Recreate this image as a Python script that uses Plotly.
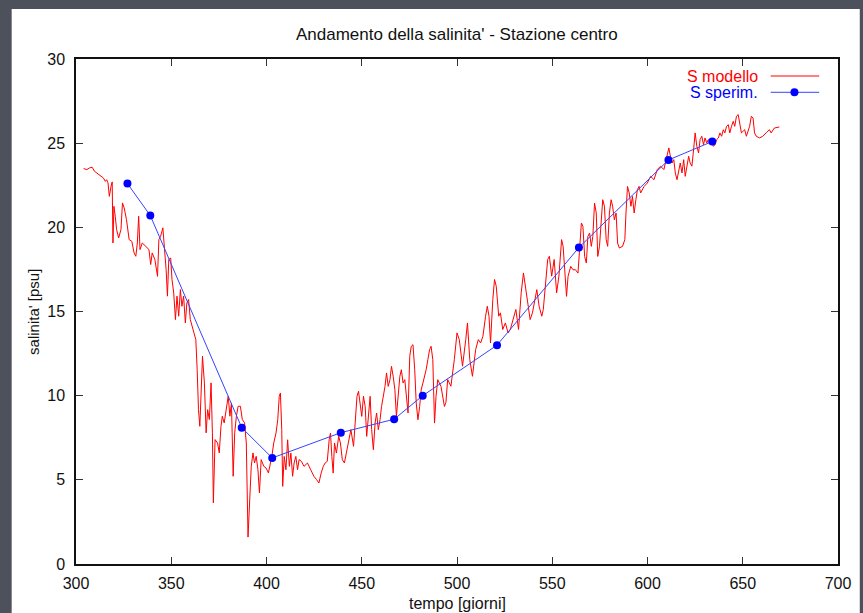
import plotly.graph_objects as go

# ---- data ----
model_days = [
    304.0, 305.7, 307.1, 308.5, 309.7, 311.4, 313.2, 314.4, 315.4, 316.1, 316.8, 317.5, 318.4, 319.0, 319.4,
    319.9, 320.6, 321.3, 322.4, 323.6, 324.4, 325.3, 326.5, 327.9, 329.3, 330.5, 331.4, 332.2, 332.9, 333.6,
    334.8, 336.6, 338.3, 339.2, 340.0, 341.4, 342.8, 343.5, 344.4, 345.6, 346.3, 347.3, 348.0, 348.7, 349.7,
    350.4, 351.3, 352.2, 353.0, 353.9, 354.8, 355.6, 356.5, 357.4, 358.2, 359.1, 360.0, 361.7, 362.9, 363.6,
    364.3, 365.0, 365.7, 366.4, 367.4, 368.3, 369.1, 370.0, 370.9, 371.6, 372.1, 373.0, 374.3, 375.2, 376.1,
    376.8, 377.8, 378.7, 379.9, 380.8, 381.6, 382.5, 383.3, 384.2, 385.1, 386.3, 387.3, 388.5, 389.4, 390.3,
    391.1, 392.0, 392.9, 393.7, 394.6, 395.5, 396.3, 397.2, 398.6, 399.8, 401.0, 402.8, 403.8, 405.0, 405.9,
    406.7, 407.3, 408.0, 408.5, 409.3, 410.2, 411.1, 412.0, 412.8, 413.7, 414.5, 415.4, 416.3, 417.1, 418.3,
    419.7, 421.5, 423.2, 424.9, 426.3, 427.5, 428.7, 429.8, 430.8, 431.9, 432.9, 433.6, 434.3, 435.0, 435.7,
    436.7, 437.9, 438.8, 439.8, 440.9, 441.9, 443.1, 444.3, 445.7, 446.6, 447.5, 448.3, 449.2, 450.0, 450.9,
    451.8, 452.6, 453.5, 454.4, 455.2, 456.1, 457.0, 457.8, 458.7, 459.6, 460.4, 461.3, 462.2, 463.0, 463.9,
    464.8, 465.6, 466.5, 467.4, 468.2, 469.1, 470.0, 470.8, 471.7, 472.6, 473.4, 474.3, 475.2, 476.0, 476.9,
    477.8, 478.6, 479.5, 480.4, 481.2, 482.1, 483.0, 483.8, 484.7, 485.6, 486.4, 487.3, 488.2, 489.0, 489.9,
    491.6, 493.4, 494.2, 495.1, 496.8, 498.6, 500.0, 501.2, 502.9, 504.6, 505.5, 506.7, 508.1, 509.8, 511.2,
    512.4, 513.6, 515.0, 515.9, 516.8, 517.6, 518.8, 519.7, 520.6, 521.9, 522.8, 524.0, 525.4, 526.8, 528.0,
    529.7, 530.9, 532.3, 533.7, 534.9, 536.2, 537.2, 538.4, 539.6, 540.7, 541.9, 543.1, 544.5, 545.3, 546.6,
    547.6, 548.5, 549.7, 551.0, 552.3, 553.5, 554.9, 555.7, 556.6, 557.5, 558.3, 559.7, 560.9, 562.2, 563.5,
    564.4, 565.3, 566.1, 567.0, 567.9, 568.7, 569.6, 570.5, 571.3, 572.2, 573.1, 573.9, 574.8, 575.7, 576.5,
    577.4, 578.3, 579.1, 580.0, 580.9, 581.7, 582.6, 583.5, 584.3, 585.2, 586.9, 588.1, 588.7, 589.5, 590.4,
    591.3, 592.1, 593.0, 593.9, 594.7, 595.6, 596.4, 598.2, 599.9, 601.6, 603.4, 605.1, 606.9, 608.6, 610.3,
    611.2, 612.0, 612.9, 613.8, 614.6, 615.5, 616.4, 617.2, 618.1, 619.0, 619.8, 620.7, 621.6, 622.4, 623.3,
    624.2, 625.0, 625.9, 626.8, 627.6, 628.5, 629.4, 630.2, 631.1, 631.9, 633.7, 634.6, 635.4, 636.3, 637.2,
    638.0, 638.9, 639.8, 640.6, 641.5, 642.4, 643.2, 644.1, 645.0, 645.8, 646.7, 647.6, 648.4, 649.3, 650.2,
    651.0, 651.9, 653.6, 654.5, 655.4, 656.2, 657.1, 658.8, 660.5, 662.3, 664.0, 664.9, 666.6, 669.2,
]
model_sal = [
    23.49, 23.43, 23.53, 23.57, 23.33, 23.19, 23.07, 22.93, 22.73, 22.83, 22.64, 21.84, 22.44, 22.70, 19.07,
    21.25, 20.66, 19.87, 19.37, 19.87, 21.45, 21.15, 20.46, 19.27, 19.17, 18.48, 18.28, 19.07, 20.66, 18.68,
    19.07, 18.88, 18.68, 17.79, 18.48, 18.09, 17.09, 19.27, 19.47, 19.97, 19.07, 17.49, 15.91, 18.09, 18.18,
    16.90, 16.10, 14.52, 15.91, 14.72, 16.30, 15.31, 15.91, 14.32, 15.51, 15.71, 14.52, 13.83, 13.33, 11.55,
    9.17, 8.18, 10.76, 12.34, 10.76, 7.79, 9.17, 8.58, 10.76, 7.79, 3.63, 7.39, 7.19, 6.60, 8.18,
    8.78, 8.38, 9.17, 9.97, 8.78, 9.57, 5.21, 7.79, 8.78, 9.37, 9.37, 8.58, 8.38, 7.19, 1.60,
    3.82, 5.80, 6.60, 6.00, 6.40, 5.60, 4.22, 6.20, 5.80, 5.70, 5.41, 6.39, 7.19, 7.78, 8.57,
    9.96, 10.16, 7.98, 4.61, 6.39, 5.60, 7.38, 5.80, 6.59, 5.21, 6.00, 6.39, 5.60, 6.20, 6.10,
    5.80, 6.00, 5.60, 5.21, 5.01, 4.81, 5.40, 5.80, 6.00, 6.10, 7.38, 7.78, 6.39, 5.40, 7.19,
    6.59, 7.58, 7.19, 6.20, 6.00, 6.59, 7.38, 7.98, 6.99, 8.77, 9.96, 10.26, 9.36, 8.77, 9.96,
    9.36, 7.58, 8.97, 9.96, 7.98, 6.79, 8.37, 8.97, 7.98, 8.57, 9.36, 9.96, 10.55, 11.35, 10.55,
    10.95, 11.74, 11.15, 10.35, 8.77, 9.96, 11.15, 11.54, 10.75, 10.95, 9.96, 8.97, 12.34, 12.93, 13.03,
    11.54, 9.56, 8.57, 9.36, 10.35, 10.75, 11.15, 11.54, 12.14, 12.73, 12.93, 12.14, 8.37, 9.96, 10.95,
    10.55, 9.36, 9.60, 10.96, 10.56, 12.15, 13.73, 13.33, 11.75, 13.33, 14.32, 12.15, 11.15, 12.74, 13.33,
    13.13, 13.53, 14.72, 15.31, 14.72, 13.13, 15.71, 16.90, 16.50, 14.72, 14.92, 13.93, 14.32, 13.73, 13.93,
    14.72, 15.12, 13.93, 16.11, 17.29, 16.30, 15.31, 14.52, 14.92, 15.71, 16.30, 15.31, 14.72, 15.12, 16.70,
    18.09, 18.28, 17.10, 18.09, 16.11, 17.10, 19.27, 18.87, 17.48, 15.90, 17.09, 17.68, 17.48, 17.48, 17.28,
    18.87, 20.26, 20.06, 18.27, 17.88, 19.46, 19.66, 18.87, 19.46, 21.44, 20.85, 18.27, 18.87, 20.45, 21.64,
    21.25, 19.27, 18.87, 20.85, 21.64, 21.25, 20.45, 20.85, 19.07, 18.77, 18.87, 19.27, 20.85, 22.43, 22.04,
    21.25, 21.84, 20.85, 21.64, 22.24, 22.43, 22.04, 22.43, 22.63, 23.03, 22.83, 23.43, 23.63, 23.43, 24.22,
    24.72, 24.22, 23.82, 24.02, 23.23, 22.83, 23.43, 23.82, 23.23, 24.02, 23.03, 23.63, 24.22, 23.82, 23.63,
    24.62, 25.61, 24.81, 24.42, 25.21, 25.41, 24.91, 25.31, 25.01, 25.21, 25.01, 24.81, 24.91, 25.21, 25.31,
    25.61, 25.41, 25.80, 25.61, 26.00, 26.10, 25.61, 26.00, 26.30, 26.00, 26.60, 26.70, 26.20, 25.61, 25.71,
    25.80, 25.41, 26.00, 26.60, 26.50, 25.61, 25.41, 25.31, 25.41, 25.61, 25.80, 25.61, 25.90, 25.96,
]
meas_days = [327.0, 339.0, 387.0, 403.0, 439.0, 467.0, 482.0, 521.0, 564.0, 611.0, 634.0]
meas_sal = [22.6, 20.7, 8.1, 6.3, 7.8, 8.6, 10.0, 13.0, 18.8, 24.0, 25.1]

x_ticks = [300, 350, 400, 450, 500, 550, 600, 650, 700]
y_ticks = [0, 5, 10, 15, 20, 25, 30]

title_text = "Andamento della salinita' - Stazione centro"
x_title = "tempo [giorni]"
y_title = "salinita' [psu]"
legend_names = ["S modello", "S sperim."]

# ---- layout geometry (pixels) ----
W, H = 863, 613
ML, MR, MT, MB = 76, 17, 59, 49
PW, PH = W - ML - MR, H - MT - MB


def px(xp):
    return (xp - ML) / PW


def py(yp):
    return (H - MB - yp) / PH


FONT = "Liberation Sans, Arial, Helvetica, sans-serif"
RED = "#ff0000"
BLUE = "#0000ff"
LINEBLUE = "#3344ff"
BG = "#4c515c"

fig = go.Figure()
fig.add_trace(go.Scatter(x=model_days, y=model_sal, mode="lines", name=legend_names[0],
                         line=dict(color=RED, width=1), showlegend=False, hoverinfo="skip"))
fig.add_trace(go.Scatter(x=meas_days, y=meas_sal, mode="lines+markers", name=legend_names[1],
                         line=dict(color=LINEBLUE, width=1),
                         marker=dict(color=BLUE, size=8, line=dict(width=0)),
                         showlegend=False, hoverinfo="skip"))

shapes = [
    # white page area on the dark slide background
    dict(type="rect", xref="paper", yref="paper", x0=px(11), x1=px(W + 5), y0=py(H + 5), y1=py(9),
         fillcolor="white", line=dict(width=0), layer="below"),
    # legend sample lines
    dict(type="line", xref="paper", yref="paper", x0=px(778), x1=px(827), y0=py(76), y1=py(76),
         line=dict(color=RED, width=1)),
    dict(type="line", xref="paper", yref="paper", x0=px(778), x1=px(827), y0=py(92.3), y1=py(92.3),
         line=dict(color=LINEBLUE, width=1)),
    dict(type="circle", xref="paper", yref="paper", xsizemode="pixel", ysizemode="pixel",
         xanchor=px(802), yanchor=py(92.3), x0=-4, x1=4, y0=-4, y1=4,
         fillcolor=BLUE, line=dict(width=0)),
]

annotations = [
    dict(text=title_text, xref="paper", yref="paper", x=0.5, y=py(35), xanchor="center", yanchor="middle",
         showarrow=False, font=dict(family=FONT, size=17, color="#111")),
    dict(text=x_title, xref="paper", yref="paper", x=0.5, y=py(603), xanchor="center", yanchor="middle",
         showarrow=False, font=dict(family=FONT, size=16, color="#111")),
    dict(text=y_title, xref="paper", yref="paper", x=px(33), y=0.5, xanchor="center", yanchor="middle",
         textangle=-90, showarrow=False, font=dict(family=FONT, size=15, color="#111")),
    dict(text=legend_names[0], xref="paper", yref="paper", x=px(767), y=py(76), xanchor="right",
         yanchor="middle", showarrow=False, font=dict(family=FONT, size=16, color=RED)),
    dict(text=legend_names[1], xref="paper", yref="paper", x=px(767), y=py(92.3), xanchor="right",
         yanchor="middle", showarrow=False, font=dict(family=FONT, size=16, color=BLUE)),
]

axis_common = dict(showline=True, linecolor="#111", linewidth=1.5, mirror="ticks", ticks="inside",
                   ticklen=7, tickwidth=1.2, tickcolor="#333", showgrid=False, zeroline=False,
                   tickfont=dict(family=FONT, size=16, color="#111"), fixedrange=True)

fig.update_layout(
    width=W, height=H, autosize=False,
    margin=dict(l=ML, r=MR, t=MT, b=MB, pad=0),
    paper_bgcolor=BG, plot_bgcolor="white",
    xaxis=dict(range=[300, 700], tickvals=x_ticks, ticktext=[str(v) for v in x_ticks],
               ticklabelstandoff=4, **axis_common),
    yaxis=dict(range=[0, 30], tickvals=y_ticks, ticktext=[str(v) for v in y_ticks],
               ticklabelstandoff=6, **axis_common),
    shapes=shapes, annotations=annotations, showlegend=False,
)

fig.write_html(
    "out.html",
    config={"displayModeBar": False},
    post_script="document.body.style.margin='0';document.body.style.padding='0';"
                "document.body.style.overflow='hidden';document.body.style.background='" + BG + "';",
)
